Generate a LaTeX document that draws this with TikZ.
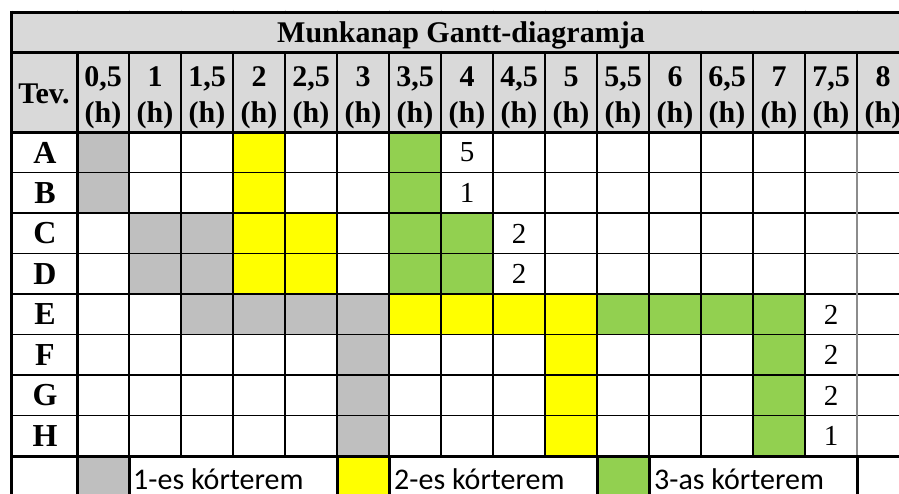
\documentclass[tikz,border=0pt]{standalone}
\usepackage{fontspec}
\setmainfont{Liberation Serif}
\newfontfamily\legendfont{Carlito}

\definecolor{hdrgray}{HTML}{D9D9D9}
\definecolor{room1}{HTML}{BFBFBF}
\definecolor{room2}{HTML}{FFFF00}
\definecolor{room3}{HTML}{92D050}
\definecolor{lastline}{HTML}{8C8C8C}

\tikzset{
  thinrule/.style={line width=1.5pt, black},
  hdrrule/.style={line width=2pt, black},
  thickrule/.style={line width=3pt, black},
  boldtxt/.style={font=\fontsize{30}{36}\selectfont\bfseries, inner sep=0pt},
  rowtxt/.style={font=\fontsize{32}{38}\selectfont\bfseries, inner sep=0pt},
  numtxt/.style={font=\fontsize{29}{34}\selectfont, inner sep=0pt},
  legtxt/.style={font=\legendfont\fontsize{30}{36}\selectfont, inner sep=0pt, anchor=base west},
}

% column edge k (k>=1): 77 + 52(k-1); row edge r (r>=1): 132 + 40.5(r-1)
\newcommand{\colx}[1]{77+52*(#1-1)}
\newcommand{\rowy}[1]{132+40.5*(#1-1)}

\begin{document}
\begin{tikzpicture}[x=1pt,y=-1pt]
\useasboundingbox (0,0) rectangle (899,493);
\begin{scope}
\clip (0,0) rectangle (899,493);

% header backgrounds
\fill[hdrgray] (11,12) rectangle (912,132);

% coloured cells: row/column/colour
\foreach \r/\c/\col in {
  1/1/room1, 1/4/room2, 1/7/room3,
  2/1/room1, 2/4/room2, 2/7/room3,
  3/2/room1, 3/3/room1, 3/4/room2, 3/5/room2, 3/7/room3, 3/8/room3,
  4/2/room1, 4/3/room1, 4/4/room2, 4/5/room2, 4/7/room3, 4/8/room3,
  5/3/room1, 5/4/room1, 5/5/room1, 5/6/room1,
  5/7/room2, 5/8/room2, 5/9/room2, 5/10/room2,
  5/11/room3, 5/12/room3, 5/13/room3, 5/14/room3,
  6/6/room1, 6/10/room2, 6/14/room3,
  7/6/room1, 7/10/room2, 7/14/room3,
  8/6/room1, 8/10/room2, 8/14/room3,
  9/1/room1, 9/6/room2, 9/11/room3}
  \fill[\col] ({\colx{\c}},{\rowy{\r}}) rectangle ++(52,40.5);

% grid of the data rows
\foreach \r in {2,...,8}
  \draw[thinrule] (11,{\rowy{\r}}) -- (912,{\rowy{\r}});
\foreach \k in {2,...,15}
  \draw[thinrule] ({\colx{\k}},132) -- ({\colx{\k}},456);
\draw[line width=1.5pt, lastline] ({\colx{16}},132) -- ({\colx{16}},456);

% header column separators
\foreach \k in {2,...,17}
  \draw[hdrrule] ({\colx{\k}},52) -- ({\colx{\k}},132);

% legend row separators
\foreach \k in {2,6,7,11,12,16}
  \draw[thickrule] ({\colx{\k}},456) -- ({\colx{\k}},500);

% heavy rules
\draw[thickrule] (11,12) -- (912,12);
\draw[thickrule] (11,52) -- (912,52);
\draw[thickrule] (11,132) -- (912,132);
\draw[thickrule] (11,456) -- (912,456);
\draw[thickrule] (11,10.5) -- (11,500);
\draw[thickrule] (77,52) -- (77,500);

% faint gridline stubs along the top edge
\foreach \k in {1,...,16}
  \draw[line width=1pt, white!75!gray] ({\colx{\k}},9.5) -- ({\colx{\k}},11);

% title
\node[boldtxt, anchor=base] (title) at (461,42) {Munkanap Gantt-diagramja};

% header labels
\node[boldtxt, anchor=base] (tev) at (44,103) {Tev.};
\foreach \t [count=\k] in {{0,5},1,{1,5},2,{2,5},3,{3,5},4,{4,5},5,{5,5},6,{6,5},7,{7,5},8} {
  \node[boldtxt, anchor=base] (hv\k) at ({\colx{\k}+26},86) {\t};
  \node[boldtxt, anchor=base] (hu\k) at ({\colx{\k}+26},122) {(h)};
}

% row labels
\foreach \l [count=\r] in {A,B,C,D,E,F,G,H}
  \node[rowtxt] (row\l) at (45,{\rowy{\r}+20.5}) {\l};

% remaining counts
\foreach \r/\c/\v in {1/8/5, 2/8/1, 3/9/2, 4/9/2, 5/15/2, 6/15/2, 7/15/2, 8/15/1}
  \node[numtxt] (cnt\r) at ({\colx{\c}+26},{\rowy{\r}+20.5}) {\v};

% legend
\node[legtxt] (leg1) at ({\colx{2}+4},489) {1-es kórterem};
\node[legtxt] (leg2) at ({\colx{7}+5},489) {2-es kórterem};
\node[legtxt] (leg3) at ({\colx{12}+5},489) {3-as kórterem};
\end{scope}
\end{tikzpicture}
\end{document}
